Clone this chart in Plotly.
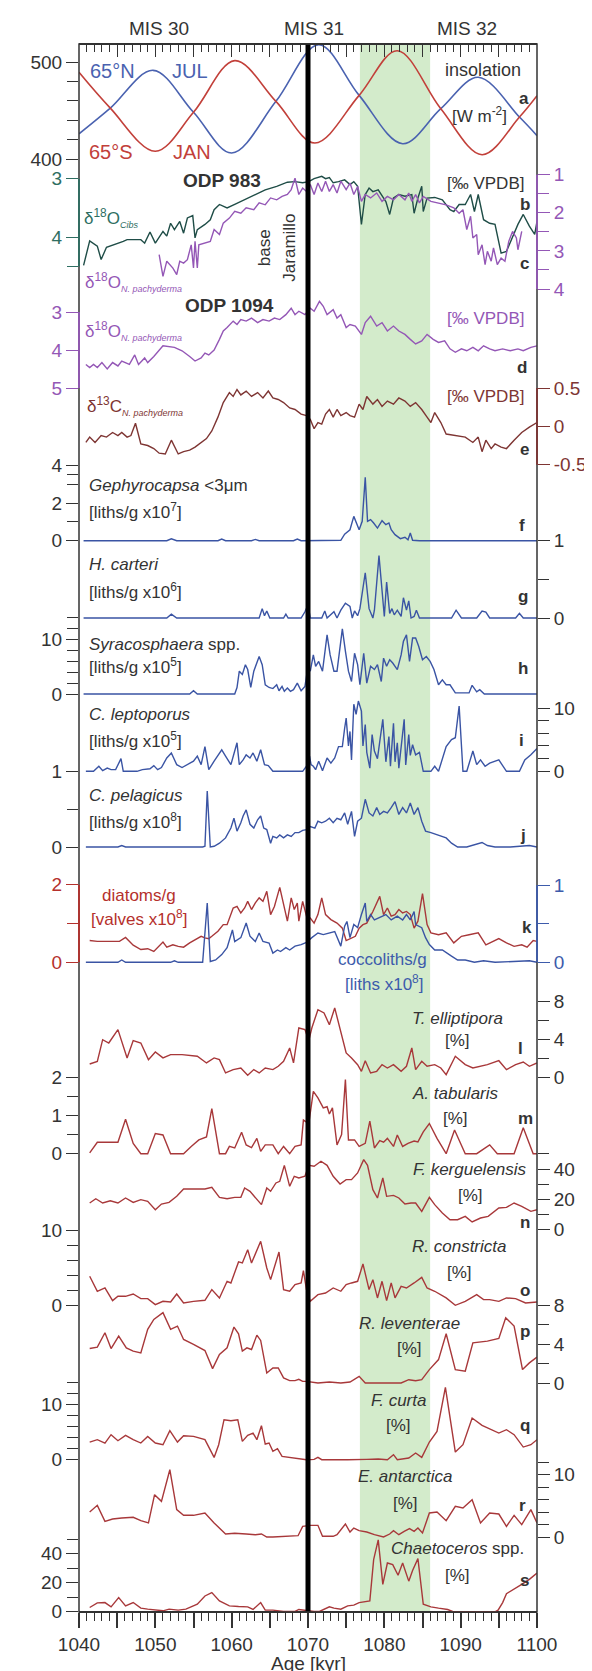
import plotly.graph_objects as go

FONT = "Liberation Sans, Arial, sans-serif"

# ---------------- data (age in kyr, value) ----------------
ins_n_age = [1040, 1044.1, 1049.7, 1055.0, 1060.0, 1065.8, 1071.4, 1076.7, 1082.4, 1087.4, 1092.3, 1097.7, 1100]
ins_n_val = [426, 452.6, 491.7, 448.3, 406.2, 459.6, 518.2, 465.8, 415.8, 452, 484.5, 443.4, 424.2]
ins_s_age = [1040, 1044.1, 1050.0, 1055.0, 1060.4, 1065.8, 1070.9, 1076.7, 1081.7, 1087.4, 1092.8, 1097.7, 1100]
ins_s_val = [489.6, 452.6, 408, 448.3, 501.7, 459.6, 416.5, 465.8, 512, 452, 404.4, 443.4, 465.5]

d18o_cibs_983 = [(1040.6,4.48),(1041.4,4.06),(1042.4,4.15),(1042.9,4.38),(1043.6,4.17),(1045.1,4.11),(1045.8,4.07),(1046.3,4.04),(1047.1,4.04),(1048.1,4.04),(1048.6,4.10),(1049.3,3.91),(1050.0,4.10),(1051.0,3.90),(1051.5,3.98),(1052.0,3.76),(1052.5,3.87),(1053.2,3.73),(1053.7,3.93),(1054.2,3.67),(1054.9,3.63),(1055.2,4.01),(1055.5,3.87),(1056.5,3.78),(1057.2,3.70),(1057.7,3.53),(1058.4,3.44),(1059.4,3.50),(1060.4,3.44),(1062.4,3.32),(1064.4,3.19),(1065.9,3.13),(1067.3,3.06),(1068.3,3.05),(1069.3,3.07),(1070.1,3.05),(1070.8,3.00),(1071.8,2.96),(1072.3,3.00),(1072.8,2.98),(1073.3,3.07),(1074.0,3.05),(1074.8,3.02),(1075.5,3.10),(1076.0,3.05),(1076.5,3.13),(1077.0,3.78),(1077.5,3.27),(1078.0,3.16),(1078.5,3.22),(1079.2,3.19),(1080.2,3.39),(1080.7,3.61),(1081.2,3.33),(1081.9,3.27),(1082.7,3.30),(1083.6,3.27),(1083.9,3.59),(1084.4,3.33),(1084.9,3.13),(1085.1,3.56),(1085.6,3.33),(1086.6,3.32),(1087.6,3.36),(1088.6,3.53),(1089.1,3.56),(1089.8,3.44),(1090.6,3.44),(1091.3,3.27),(1091.8,3.56),(1092.3,3.27),(1093.0,3.70),(1093.8,3.76),(1094.5,3.78),(1095.3,4.27),(1096.0,4.24),(1096.7,4.01),(1097.5,3.78),(1098.2,3.61),(1099.0,3.81),(1099.7,3.95),(1100.0,3.73)]

d18o_npach_983 = [(1050.5,3.10),(1051.0,3.67),(1051.5,3.27),(1052.3,3.45),(1052.8,3.62),(1053.2,3.27),(1053.7,3.32),(1054.2,3.23),(1054.7,2.84),(1055.0,3.45),(1055.2,2.75),(1055.5,3.45),(1055.7,2.84),(1056.5,2.79),(1057.2,2.75),(1057.7,2.44),(1058.4,2.57),(1058.9,2.27),(1059.7,2.14),(1060.4,1.96),(1061.2,2.01),(1061.9,1.87),(1062.9,1.92),(1063.6,1.74),(1064.4,1.79),(1065.1,1.61),(1065.9,1.66),(1066.6,1.57),(1067.3,1.52),(1067.8,1.39),(1068.3,1.09),(1068.8,1.52),(1069.3,1.35),(1069.8,1.44),(1070.3,1.26),(1070.8,1.52),(1071.3,1.22),(1071.8,1.44),(1072.3,1.17),(1072.8,1.44),(1073.3,1.26),(1073.8,1.48),(1074.3,1.17),(1075.0,1.39),(1075.5,1.22),(1076.0,1.52),(1076.5,1.31),(1077.0,1.70),(1077.5,1.52),(1078.2,1.61),(1079.0,1.48),(1079.7,1.70),(1080.4,1.57),(1081.2,1.66),(1081.9,1.52),(1082.7,1.66),(1083.2,1.48),(1083.6,1.70),(1084.1,1.52),(1084.6,1.74),(1085.1,1.57),(1086.1,1.70),(1087.1,1.74),(1088.1,1.79),(1089.1,1.87),(1089.8,2.01),(1090.3,1.92),(1090.8,2.44),(1091.3,2.09),(1091.6,2.66),(1092.1,2.57),(1092.3,3.10),(1092.8,2.84),(1093.2,3.36),(1093.5,3.01),(1094.0,3.27),(1094.3,2.92),(1094.8,3.36),(1095.3,3.19),(1095.8,3.27),(1096.3,2.75),(1096.8,2.49),(1097.3,2.66),(1097.5,2.97),(1098.0,2.49)]

d18o_npach_1094 = [(1040.9,4.38),(1041.4,4.46),(1041.9,4.38),(1042.4,4.46),(1043.0,4.33),(1043.7,4.50),(1044.4,4.33),(1045.1,4.42),(1045.6,4.29),(1046.6,4.38),(1047.3,4.13),(1047.8,4.38),(1048.6,4.21),(1049.0,4.33),(1049.8,4.17),(1050.5,4.0),(1051.0,3.89),(1052.5,3.93),(1053.5,4.02),(1054.5,4.17),(1055.2,4.29),(1056.0,4.21),(1056.5,4.08),(1057.0,4.13),(1057.7,4.0),(1058.4,3.72),(1058.9,3.50),(1059.4,3.41),(1060.2,3.24),(1060.7,3.33),(1061.2,3.20),(1061.9,3.24),(1062.6,3.16),(1063.4,3.28),(1064.1,3.20),(1064.9,3.24),(1065.6,3.16),(1066.3,3.20),(1067.1,3.07),(1067.8,2.90),(1068.3,3.07),(1068.8,2.98),(1069.6,3.07),(1070.3,2.90),(1070.8,2.98),(1071.5,2.72),(1072.0,2.85),(1072.5,3.07),(1073.3,2.94),(1073.8,3.16),(1074.3,3.07),(1075.0,3.41),(1075.5,3.33),(1076.2,3.37),(1077.0,3.59),(1077.5,3.28),(1078.2,3.11),(1079.0,3.37),(1079.7,3.28),(1080.4,3.50),(1081.2,3.37),(1081.9,3.50),(1082.7,3.59),(1083.4,3.72),(1084.1,3.84),(1084.9,3.76),(1085.6,3.59),(1086.4,3.72),(1087.1,3.80),(1087.9,3.76),(1088.6,3.97),(1089.3,4.06),(1090.1,3.97),(1090.8,4.02),(1091.6,3.93),(1092.3,4.02),(1093.0,3.89),(1093.8,3.97),(1094.5,4.02),(1095.5,3.97),(1096.5,4.02),(1097.5,3.97),(1098.2,4.02),(1099.2,3.93),(1100.0,3.89)]

d13c_npach_1094 = [(1040.9,-0.21),(1041.4,-0.14),(1042.1,-0.21),(1042.9,-0.12),(1043.6,-0.14),(1044.4,-0.08),(1045.1,-0.12),(1045.6,-0.08),(1046.3,-0.14),(1046.8,-0.12),(1047.4,0.04),(1048.1,-0.23),(1049.0,-0.25),(1049.8,-0.29),(1050.5,-0.35),(1051.3,-0.36),(1052.1,-0.18),(1053.0,-0.36),(1053.7,-0.33),(1054.5,-0.31),(1055.2,-0.27),(1056.0,-0.21),(1056.7,-0.16),(1057.4,-0.06),(1058.2,0.12),(1058.9,0.31),(1059.7,0.44),(1060.2,0.39),(1060.7,0.48),(1061.2,0.41),(1061.9,0.46),(1062.6,0.39),(1063.4,0.44),(1064.1,0.37),(1064.8,0.46),(1065.4,0.37),(1066.1,0.35),(1066.8,0.31),(1067.6,0.24),(1068.3,0.22),(1069.1,0.16),(1069.8,0.14),(1070.3,0.09),(1070.8,-0.03),(1071.3,0.05),(1071.8,0.03),(1072.3,0.16),(1072.8,0.22),(1073.3,0.12),(1073.8,0.22),(1074.3,0.14),(1075.0,0.18),(1075.5,0.14),(1076.1,0.12),(1076.7,0.29),(1077.2,0.22),(1077.7,0.39),(1078.5,0.29),(1079.1,0.35),(1079.7,0.26),(1080.4,0.33),(1081.2,0.29),(1081.9,0.37),(1082.7,0.33),(1083.4,0.26),(1084.1,0.31),(1084.9,0.22),(1085.6,0.12),(1086.1,0.05),(1086.6,0.18),(1087.4,0.05),(1088.1,-0.10),(1089.3,-0.12),(1090.6,-0.14),(1091.6,-0.21),(1092.3,-0.14),(1092.8,-0.33),(1093.3,-0.18),(1094.0,-0.29),(1094.5,-0.23),(1095.3,-0.27),(1096.0,-0.29),(1097.0,-0.18),(1098.0,-0.08),(1099.0,-0.01),(1100.0,0.05)]

gephyrocapsa = [(1040.6,0),(1051.5,0),(1052.1,0.1),(1052.8,0),(1058.2,0),(1058.7,0.09),(1059.2,0),(1062.6,0),(1063.1,0.07),(1063.6,0),(1068.1,0),(1068.6,0.09),(1069.1,0),(1074.3,0.02),(1074.8,0.35),(1075.2,0.5),(1075.5,0.58),(1076.0,1.29),(1076.3,0.94),(1076.7,0.58),(1077.1,1.03),(1077.5,3.36),(1077.8,1.03),(1078.2,1.12),(1078.6,0.94),(1079.1,0.67),(1079.7,1.06),(1080.2,0.85),(1080.6,0.94),(1080.9,0.58),(1081.4,0.32),(1082.1,0.11),(1082.7,0.18),(1083.1,0.05),(1083.4,0.41),(1083.7,0.02),(1084.6,0),(1100,0)]

h_carteri = [(1040.6,0),(1051.5,0),(1052.1,0.05),(1052.8,0),(1063.6,0),(1064.0,0.12),(1064.3,0.03),(1064.6,0.09),(1065.0,0),(1066.8,0),(1067.1,0.05),(1067.4,0),(1069.1,0),(1069.6,0.08),(1070.0,0.17),(1070.3,0),(1071.8,0),(1072.2,0.09),(1072.5,0),(1073.0,0.05),(1073.4,0.08),(1073.8,0),(1074.3,0.10),(1074.9,0.19),(1075.5,0.15),(1075.8,0),(1076.1,0.09),(1076.5,0.03),(1076.8,0.12),(1077.5,0.58),(1078.0,0.12),(1078.5,0),(1078.7,0.10),(1079.3,0.80),(1079.7,0.33),(1080.0,0.02),(1080.3,0.46),(1080.7,0.06),(1081.0,0.12),(1081.3,0.04),(1081.7,0.10),(1082.2,0.02),(1082.5,0.26),(1082.9,0.10),(1083.2,0.22),(1083.5,0),(1083.9,0.02),(1084.2,0.10),(1084.6,0),(1088.8,0),(1089.4,0.10),(1090.1,0),(1092.1,0),(1092.8,0.09),(1093.3,0.075),(1093.8,0),(1097.2,0),(1097.7,0.06),(1098.2,0),(1100,0)]

syracosphaera = [(1040.6,0),(1054.5,0),(1055.0,0.6),(1055.5,0),(1060.4,0),(1060.7,1.2),(1061.0,4.2),(1061.4,3.6),(1061.8,5.4),(1062.1,4.5),(1062.5,1.2),(1062.9,4.2),(1063.6,6.9),(1064.0,5.4),(1064.4,1.7),(1064.9,1.2),(1065.4,1.0),(1065.9,1.7),(1066.2,0.6),(1066.6,1.4),(1066.9,0.5),(1067.3,1.1),(1067.7,0.5),(1068.1,0.8),(1068.6,2.0),(1069.1,0.6),(1069.6,1.4),(1070.0,5.1),(1070.3,4.2),(1070.7,7.2),(1071.0,5.1),(1071.4,6.0),(1071.9,4.2),(1072.5,10.9),(1072.9,7.2),(1073.4,4.2),(1073.8,4.2),(1074.5,12.0),(1074.9,7.9),(1075.3,4.2),(1075.7,2.3),(1076.1,7.5),(1076.5,5.4),(1076.8,1.7),(1077.3,7.5),(1077.7,2.0),(1078.2,5.1),(1078.7,4.5),(1079.1,5.4),(1079.6,2.3),(1079.9,6.6),(1080.3,5.1),(1080.7,6.3),(1081.1,5.7),(1081.7,4.5),(1082.2,7.2),(1082.5,9.7),(1082.9,10.9),(1083.3,6.0),(1083.7,10.3),(1084.1,10.3),(1084.5,8.8),(1085.0,6.3),(1085.5,6.9),(1086.0,6.0),(1086.5,4.5),(1087.1,1.7),(1087.6,2.6),(1088.1,1.7),(1088.6,1.7),(1089.3,0.2),(1091.1,0.2),(1091.5,1.6),(1092.1,0.4),(1092.5,0.8),(1093.1,0),(1100,0)]

c_leptoporus = [(1040.9,0),(1041.9,0),(1042.6,0.8),(1043.1,0.1),(1043.7,0.5),(1044.2,0.26),(1044.8,0.26),(1045.5,2.0),(1045.8,0),(1047.6,0),(1048.3,0.26),(1049.3,0.4),(1049.8,0.9),(1050.3,0.26),(1050.8,0.6),(1051.5,2.1),(1052.1,2.9),(1052.8,1.05),(1053.5,0.6),(1054.2,1.05),(1055.0,1.6),(1055.5,2.4),(1056.0,1.05),(1056.5,3.9),(1057.0,0.26),(1057.7,1.6),(1058.2,2.6),(1058.7,3.4),(1059.2,2.4),(1059.9,1.05),(1060.7,4.5),(1061.0,1.05),(1061.5,1.8),(1061.9,2.6),(1062.4,2.1),(1062.8,2.9),(1063.3,1.6),(1063.8,3.4),(1064.3,1.05),(1064.8,0.9),(1065.4,0),(1069.3,0),(1069.8,0.8),(1070.2,2.4),(1070.4,1.05),(1070.7,0.8),(1071.0,0.26),(1071.4,1.6),(1071.9,0.1),(1072.5,2.1),(1073.0,1.3),(1073.5,2.1),(1074.0,3.9),(1074.5,3.9),(1074.8,6.8),(1075.0,8.4),(1075.3,4.0),(1075.5,6.3),(1075.7,1.8),(1076.0,10.6),(1076.3,9.0),(1076.6,11.1),(1077.0,9.5),(1077.2,4.0),(1077.5,7.4),(1077.7,3.0),(1078.1,0.5),(1078.4,5.8),(1078.7,3.2),(1079.1,2.0),(1079.4,4.7),(1079.8,8.2),(1080.2,1.5),(1080.6,5.5),(1080.8,0.8),(1081.2,7.6),(1081.4,1.5),(1081.7,4.5),(1081.9,0.5),(1082.3,5.0),(1082.6,8.2),(1082.8,1.0),(1083.2,5.8),(1083.4,2.5),(1083.7,4.2),(1084.1,2.6),(1084.6,3.0),(1085.1,0),(1086.1,0),(1086.6,0.8),(1087.1,0),(1088.1,3.9),(1088.8,5.0),(1089.3,5.3),(1089.8,10.3),(1090.3,0),(1090.8,0),(1091.6,3.2),(1092.1,1.05),(1092.6,1.8),(1093.2,0.8),(1093.8,1.3),(1095.0,1.8),(1096.0,0),(1097.7,0),(1098.4,1.8),(1099.2,2.6),(1100,3.6)]

c_pelagicus = [(1040.9,0),(1045.1,0),(1045.6,0.02),(1046.1,0),(1056.2,0),(1056.5,0.01),(1056.8,0.74),(1057.2,0),(1057.7,0.01),(1058.4,0.05),(1059.2,0.12),(1059.9,0.25),(1060.3,0.38),(1060.7,0.21),(1061.2,0.32),(1061.5,0.41),(1061.9,0.49),(1062.4,0.30),(1062.9,0.25),(1063.4,0.36),(1063.8,0.41),(1064.2,0.25),(1064.6,0.23),(1065.1,0.05),(1065.4,0.14),(1065.9,0.12),(1066.3,0.16),(1066.8,0.12),(1067.3,0.16),(1067.8,0.14),(1068.3,0.19),(1068.8,0.19),(1069.3,0.22),(1069.8,0.23),(1070.3,0.27),(1070.9,0.25),(1071.3,0.34),(1071.8,0.32),(1072.3,0.34),(1072.8,0.38),(1073.3,0.32),(1073.8,0.38),(1074.3,0.36),(1074.8,0.45),(1075.2,0.30),(1075.7,0.47),(1076.1,0.14),(1076.5,0.34),(1077.0,0.38),(1077.5,0.63),(1078.0,0.45),(1078.5,0.41),(1079.0,0.52),(1079.4,0.43),(1079.9,0.47),(1080.4,0.45),(1080.9,0.52),(1081.4,0.60),(1081.9,0.43),(1082.4,0.52),(1082.9,0.45),(1083.4,0.58),(1083.9,0.43),(1084.4,0.52),(1084.9,0.34),(1085.4,0.21),(1086.1,0.19),(1087.1,0.16),(1088.1,0.12),(1088.8,0.05),(1089.6,0),(1090.8,0),(1091.8,0.03),(1092.8,0.06),(1093.5,0.02),(1094.5,0),(1096.5,0),(1099.0,0.02),(1100,0)]

diatoms_g = [(1041.4,0.56),(1042.4,0.54),(1043.4,0.54),(1044.4,0.54),(1045.3,0.54),(1046.1,0.64),(1047.1,0.44),(1048.1,0.33),(1049.0,0.35),(1049.8,0.28),(1050.5,0.41),(1051.0,0.52),(1051.5,0.39),(1052.3,0.45),(1053.0,0.41),(1053.7,0.39),(1054.5,0.50),(1055.2,0.58),(1056.0,0.67),(1056.5,0.63),(1057.0,0.61),(1057.4,0.67),(1058.2,0.80),(1058.9,0.97),(1059.4,0.97),(1060.2,1.40),(1060.7,1.44),(1061.2,1.27),(1061.7,1.40),(1062.1,1.57),(1062.6,1.36),(1063.1,1.53),(1063.6,1.66),(1064.1,1.57),(1064.6,1.83),(1065.1,1.23),(1065.6,1.44),(1066.3,1.93),(1066.8,1.49),(1067.3,1.06),(1067.8,1.66),(1068.2,1.36),(1068.6,1.53),(1068.8,1.06),(1069.3,1.57),(1069.8,1.19),(1070.3,1.14),(1070.8,1.01),(1071.3,1.23),(1071.8,1.66),(1072.3,1.23),(1073.0,1.10),(1073.8,1.01),(1074.5,0.88),(1075.0,0.56),(1075.7,0.63),(1076.2,0.67),(1076.7,0.88),(1077.2,0.97),(1077.7,1.01),(1078.5,1.31),(1079.4,1.70),(1079.9,1.23),(1080.4,1.40),(1080.9,1.19),(1081.4,1.23),(1081.9,1.36),(1082.4,1.27),(1082.9,1.31),(1083.4,1.23),(1083.9,0.88),(1084.4,1.06),(1085.0,1.77),(1085.6,0.97),(1086.1,0.76),(1087.1,0.71),(1088.1,0.76),(1089.1,0.50),(1090.1,0.67),(1091.1,0.71),(1092.3,0.76),(1093.3,0.45),(1094.3,0.54),(1095.0,0.61),(1096.0,0.50),(1097.0,0.41),(1098.0,0.45),(1098.7,0.39),(1099.5,0.56),(1100,0.54)]

coccoliths_g = [(1040.9,0),(1045.1,0),(1045.6,0.03),(1046.1,0),(1052.0,0),(1052.5,0.02),(1053.0,0),(1056.2,0),(1056.8,0.77),(1057.2,0.01),(1057.9,0.03),(1058.7,0.10),(1059.4,0.19),(1060.1,0.42),(1060.4,0.27),(1061.2,0.32),(1061.9,0.51),(1062.4,0.34),(1063.1,0.27),(1063.6,0.38),(1064.1,0.27),(1064.9,0.25),(1065.4,0.12),(1066.0,0.16),(1066.4,0.14),(1067.1,0.19),(1067.6,0.16),(1068.3,0.21),(1069.1,0.23),(1069.8,0.26),(1070.5,0.32),(1071.3,0.38),(1072.0,0.36),(1072.8,0.38),(1073.5,0.40),(1074.3,0.21),(1074.8,0.47),(1075.1,0.53),(1075.5,0.32),(1076.0,0.49),(1076.5,0.45),(1077.0,0.62),(1077.5,0.77),(1077.7,0.53),(1078.2,0.62),(1078.7,0.55),(1079.4,0.58),(1080.2,0.62),(1080.9,0.55),(1081.7,0.60),(1082.4,0.55),(1082.9,0.62),(1083.4,0.55),(1083.9,0.66),(1084.1,0.49),(1084.9,0.45),(1085.4,0.32),(1085.9,0.23),(1086.6,0.16),(1087.6,0.16),(1088.8,0.08),(1089.6,0.03),(1090.6,0.03),(1091.8,0),(1093.0,0.02),(1094.5,0),(1099.0,0.02),(1100,0)]

t_elliptipora = [(1041.4,1.4),(1042.4,1.68),(1043.1,3.96),(1043.9,3.61),(1045.1,5.02),(1045.6,3.79),(1046.3,2.04),(1047.1,3.86),(1048.1,3.61),(1049.1,1.86),(1050.0,2.67),(1051.0,2.04),(1052.0,2.39),(1053.5,2.39),(1055.5,2.21),(1056.7,1.51),(1057.7,2.04),(1058.4,1.86),(1059.2,0.46),(1060.2,0.81),(1061.2,0.98),(1062.1,0.21),(1062.9,0.81),(1063.6,0.46),(1064.4,0.98),(1065.4,0.81),(1066.1,1.16),(1066.8,1.68),(1067.6,3.09),(1068.1,1.51),(1068.8,5.19),(1069.6,5.02),(1070.1,3.86),(1070.5,5.19),(1071.3,7.12),(1072.1,6.77),(1072.8,5.54),(1073.5,7.30),(1074.3,4.67),(1075.0,2.56),(1075.7,2.04),(1076.5,1.33),(1077.0,0.63),(1077.5,1.75),(1078.2,0.46),(1079.0,0.63),(1079.7,1.33),(1080.4,0.98),(1081.2,1.33),(1082.2,0.63),(1082.9,1.16),(1083.6,3.09),(1084.1,0.81),(1084.9,1.68),(1085.6,1.16),(1086.6,1.33),(1087.4,0.98),(1088.1,0.28),(1089.3,2.21),(1090.6,1.33),(1091.6,0.98),(1092.5,1.16),(1093.5,1.33),(1095.0,1.75),(1096.0,0.81),(1097.2,1.33),(1098.2,1.61),(1099.0,1.16),(1100,1.51)]

a_tabularis = [(1041.4,0.02),(1042.4,0.3),(1043.4,0.3),(1045.1,0.3),(1046.1,0.9),(1047.1,0.27),(1048.1,0),(1049.0,0),(1050.0,0.53),(1051.0,0.49),(1052.0,0),(1053.7,0),(1054.7,0.19),(1055.7,0.36),(1056.7,0.44),(1057.4,1.18),(1058.4,0),(1059.2,0),(1059.7,0.19),(1060.4,0.15),(1061.3,0.56),(1061.9,0.23),(1062.6,0.16),(1063.3,0.4),(1063.8,0.06),(1064.4,0.23),(1065.4,0.23),(1066.1,0),(1066.8,0.19),(1067.6,0),(1068.3,0.19),(1069.1,0.23),(1069.4,0.88),(1070.1,0.79),(1070.7,1.63),(1071.3,1.46),(1072.0,1.2),(1072.5,1.23),(1072.8,1.04),(1073.2,1.2),(1073.8,0.23),(1074.4,0.5),(1074.9,1.94),(1075.3,0.36),(1076.1,0.36),(1076.7,0.19),(1077.5,0.27),(1078.1,0.85),(1078.7,0.15),(1079.4,0.34),(1079.9,0.30),(1080.4,0.40),(1081.2,0.19),(1081.7,0.49),(1082.4,0.19),(1083.1,0.27),(1083.9,0.33),(1084.4,0.31),(1085.1,0.57),(1085.9,0.79),(1086.9,0.4),(1088.1,0),(1089.2,0.62),(1090.6,0),(1092.1,0),(1093.8,0.23),(1094.8,0),(1097.0,0),(1098.2,0.68),(1099.5,0),(1100,0)]

f_kerguelensis = [(1041.4,17.6),(1042.2,20.4),(1043.1,17.6),(1044.1,19.1),(1045.1,17.6),(1046.1,20.9),(1047.1,18.0),(1048.1,19.8),(1049.0,18.7),(1050.0,13.2),(1050.8,16.9),(1051.8,18.0),(1052.8,22.0),(1053.7,26.8),(1055.0,26.8),(1056.5,26.8),(1057.4,27.9),(1058.4,21.3),(1059.4,20.4),(1060.4,21.3),(1061.2,21.3),(1061.7,27.5),(1062.4,25.3),(1063.1,21.3),(1063.9,16.5),(1064.6,27.5),(1065.1,25.3),(1065.8,30.8),(1066.3,31.9),(1066.9,42.4),(1067.6,28.6),(1068.2,35.2),(1068.8,34.1),(1069.6,35.2),(1070.1,42.4),(1070.8,41.8),(1071.7,45.1),(1072.5,42.4),(1073.3,35.2),(1074.2,30.1),(1075.0,33.0),(1075.7,33.0),(1076.5,37.4),(1077.3,46.2),(1077.8,42.4),(1078.5,26.4),(1079.1,20.9),(1079.8,34.1),(1080.3,22.0),(1081.2,22.6),(1081.9,20.9),(1082.7,16.9),(1083.5,17.6),(1084.1,17.6),(1084.9,12.1),(1085.9,21.3),(1086.6,16.5),(1087.6,11.0),(1088.6,6.6),(1089.6,6.6),(1090.6,8.8),(1091.5,5.1),(1092.6,7.7),(1093.6,8.8),(1095.0,14.3),(1096.0,14.7),(1097.0,17.6),(1098.0,15.4),(1099.2,12.1),(1100,13.2)]

r_constricta = [(1041.4,3.87),(1042.4,1.87),(1043.4,2.31),(1044.4,0.62),(1045.1,1.2),(1046.1,1.2),(1047.1,1.51),(1048.1,0.89),(1049.0,0.89),(1050.0,0.09),(1051.0,0.53),(1052.0,0.44),(1052.8,1.51),(1053.7,0.31),(1055.0,0.53),(1056.5,0.67),(1057.4,2.09),(1058.4,0.98),(1059.4,3.2),(1059.9,2.98),(1060.9,5.78),(1061.4,5.64),(1062.1,7.42),(1062.6,5.64),(1063.8,8.53),(1064.6,4.98),(1065.1,3.42),(1066.2,7.11),(1066.8,2.09),(1067.6,1.87),(1068.3,2.76),(1069.1,2.98),(1069.4,4.62),(1069.8,2.09),(1070.3,0.53),(1071.3,1.42),(1072.3,1.64),(1073.3,2.31),(1074.3,1.87),(1075.0,2.76),(1075.7,2.98),(1076.5,3.2),(1077.2,5.51),(1078.0,2.09),(1078.5,3.42),(1079.1,0.98),(1079.7,3.2),(1080.3,0.62),(1080.9,2.98),(1081.4,0.98),(1082.2,2.53),(1082.9,2.31),(1083.9,2.98),(1084.9,3.73),(1085.6,2.31),(1086.6,1.87),(1088.1,0.98),(1089.3,0),(1090.6,0.53),(1092.1,1.42),(1093.0,0.75),(1093.8,0.75),(1095.0,0.53),(1096.0,0.98),(1097.2,0.89),(1098.5,0.31),(1100,0.44)]

r_leventerae = [(1041.4,3.55),(1042.4,3.69),(1043.4,5.17),(1044.2,3.55),(1045.2,4.83),(1046.2,3.62),(1047.1,3.28),(1048.1,3.10),(1049.0,5.52),(1049.8,6.55),(1051.0,7.24),(1052.0,5.52),(1052.9,5.86),(1053.7,4.48),(1055.0,3.97),(1056.5,3.34),(1057.5,1.48),(1058.4,2.93),(1059.4,3.62),(1060.3,5.76),(1060.9,5.07),(1061.4,3.28),(1062.0,3.62),(1062.6,3.45),(1063.3,4.93),(1063.8,4.38),(1064.6,1.03),(1065.4,1.55),(1066.1,1.55),(1066.8,0.52),(1067.6,0.24),(1068.3,0.24),(1068.8,0.38),(1069.3,0.17),(1069.8,0.17),(1070.5,0.10),(1071.3,0),(1072.8,0.10),(1074.3,0),(1075.5,0.10),(1076.7,0.69),(1077.5,0),(1079.0,0),(1080.7,0),(1082.2,0),(1083.2,0.34),(1084.1,0.24),(1084.9,0.34),(1085.9,1.38),(1087.1,2.41),(1088.1,5.07),(1089.3,1.38),(1090.6,1.21),(1091.6,4.14),(1093.5,4.31),(1095.0,4.59),(1095.9,6.72),(1097.0,5.86),(1098.1,1.38),(1099.0,2.07),(1100,2.66)]

f_curta = [(1041.4,3.21),(1042.4,3.64),(1043.4,3.03),(1044.2,4.55),(1045.1,3.45),(1046.1,4.42),(1047.1,3.64),(1048.1,3.03),(1049.0,4.24),(1050.0,3.03),(1051.0,2.73),(1051.9,5.27),(1052.9,3.21),(1053.7,4.36),(1055.0,4.24),(1056.5,3.64),(1057.7,0.42),(1058.3,2.73),(1059.0,7.27),(1059.9,7.09),(1060.8,7.27),(1061.4,3.33),(1062.1,4.42),(1062.8,4.85),(1063.3,3.64),(1063.9,6.18),(1064.4,2.85),(1064.9,3.03),(1065.4,1.52),(1066.0,2.0),(1066.6,0.61),(1067.6,0.42),(1068.8,0.30),(1069.8,0),(1070.8,0.06),(1071.3,0.42),(1071.8,0),(1073.3,0.06),(1075.2,0),(1077.7,0.06),(1079.2,0.12),(1080.4,0),(1081.2,0.91),(1081.7,0),(1083.2,0.30),(1084.1,1.21),(1084.9,0.42),(1085.9,3.21),(1086.9,5.15),(1088.0,13.15),(1089.3,1.39),(1090.3,2.73),(1091.5,7.58),(1092.8,6.24),(1094.0,5.45),(1095.0,4.85),(1096.0,5.45),(1097.0,4.55),(1098.2,2.30),(1099.2,2.73),(1100,3.64)]

e_antarctica = [(1041.4,4.0),(1042.4,5.08),(1043.4,2.51),(1044.4,2.89),(1045.6,3.05),(1047.1,3.16),(1048.1,2.62),(1049.1,2.25),(1049.9,6.79),(1050.8,5.72),(1051.9,10.8),(1052.8,4.39),(1053.7,3.48),(1055.0,3.48),(1056.5,3.85),(1057.7,2.25),(1059.2,0.48),(1060.4,0.59),(1061.9,0.48),(1063.1,0.37),(1063.9,0.48),(1064.6,0),(1065.4,0),(1066.8,0.11),(1068.7,0.21),(1069.3,1.71),(1070.3,1.87),(1071.3,1.87),(1071.9,0.11),(1073.3,0.11),(1073.8,0.37),(1074.9,2.09),(1075.5,0.80),(1076.0,1.44),(1076.7,1.02),(1077.7,0.80),(1078.7,0.37),(1079.9,0),(1080.7,0.48),(1081.2,1.02),(1081.9,0.37),(1082.6,0.91),(1083.3,1.34),(1083.9,0.91),(1084.4,1.44),(1085.0,0.64),(1085.9,3.85),(1086.9,4.0),(1088.1,2.62),(1089.3,4.92),(1090.3,4.65),(1091.5,5.99),(1092.6,2.25),(1093.8,3.85),(1095.0,3.69),(1096.0,1.71),(1097.0,3.48),(1098.0,1.98),(1099.2,4.39),(1100,2.25)]

chaetoceros = [(1041.4,2.95),(1042.4,6.14),(1043.4,6.36),(1044.2,3.41),(1045.2,9.77),(1046.1,4.09),(1047.1,6.36),(1048.1,2.5),(1049.0,1.82),(1050.0,1.14),(1051.0,0.68),(1051.8,1.82),(1053.0,1.14),(1054.0,1.82),(1055.5,5.23),(1056.5,10.9),(1057.4,13.2),(1058.4,7.5),(1059.7,4.09),(1060.9,3.64),(1062.1,3.41),(1062.8,1.59),(1063.8,6.36),(1064.4,1.14),(1065.4,1.14),(1066.8,0.23),(1068.3,0.23),(1068.8,1.59),(1069.8,0.68),(1070.8,0.23),(1071.5,0.23),(1072.8,3.41),(1073.4,2.5),(1074.3,1.82),(1075.2,4.09),(1076.0,4.55),(1076.7,6.36),(1077.5,7.05),(1078.1,7.5),(1078.6,35.9),(1079.2,49.5),(1079.8,18.9),(1080.4,33.6),(1081.1,32.5),(1081.8,25.2),(1082.4,33.6),(1083.2,21.1),(1083.7,28.4),(1084.4,36.6),(1085.1,5.23),(1086.1,3.41),(1087.1,2.5),(1088.3,1.59),(1089.1,0),(1094.5,0),(1094.9,1.14),(1095.5,6.36),(1096.0,12.5),(1097.0,15.5),(1098.0,18.9),(1099.0,22.3),(1100,26.6)]

x_ticks = [1040, 1050, 1060, 1070, 1080, 1090, 1100]
mis_labels = [("MIS 30", 1050.5), ("MIS 31", 1070.8), ("MIS 32", 1090.8)]
jaramillo_base = 1070
green_band = (1076.8, 1086.0)

# ---------------- colours ----------------
BLUE_INS = "#4a62b0"
RED_INS = "#c2403a"
BLUE = "#3a54a4"
RED = "#a8383a"
TEAL = "#1f4d47"
TEAL_T = "#2e6e62"
PURPLE = "#9457b6"
BROWN = "#7e3533"
DARK = "#333333"
KRED = "#b5302c"
KBLUE = "#3d5bab"

# ---------------- geometry ----------------
W, H = 592, 1671
ML, MR, MT, MB = 71, 63, 36, 67
PH = H - MT - MB
YB = MT + PH


def py(ypx):
    return (YB - ypx) / PH


def rng(a, b, s):
    out, v = [], a
    while v <= b + 1e-9:
        out.append(round(v, 3))
        v += s
    return out


def fmt(t):
    return str(int(t)) if float(t).is_integer() else str(t)


def axis_cfg(v1, y1, v2, y2, top, bot, side, tickvals, labelled, color):
    k = (v2 - v1) / (y2 - y1)
    val = lambda y: v1 + (y - y1) * k
    minor_vals = [t for t in tickvals if t not in labelled]
    cfg = dict(domain=[max(0.0, py(bot)), min(1.0, py(top))],
               range=[val(bot), val(top)], anchor="x", side=side,
               tickmode="array", tickvals=labelled, ticktext=[fmt(t) for t in labelled],
               ticks="outside", ticklen=12, tickwidth=1.4, tickcolor=color,
               tickfont=dict(size=19, color=color, family=FONT),
               showgrid=False, zeroline=False, showline=False, fixedrange=True)
    if minor_vals:
        cfg["minor"] = dict(tickmode="array", tickvals=minor_vals, ticks="outside",
                            ticklen=11, tickwidth=1.3, tickcolor=color, showgrid=False)
    return cfg


panels = [
    ("a", 500, 54.3, 400, 151, 36, 160, "left", rng(400, 500, 20), [400, 500], DARK),
    ("b", 3, 170.7, 4, 229.3, 150, 270, "left", [3, 4, 4.5], [3, 4], TEAL_T),
    ("c", 1, 166.7, 4, 281, 150, 295, "right", rng(1, 4, 0.5), [1, 2, 3, 4], PURPLE),
    ("d", 3, 304, 5, 380, 290, 384, "left", [3, 4, 5], [3, 4, 5], PURPLE),
    ("e", 0.5, 380, -0.5, 456.7, 370, 462, "right", [-0.5, 0, 0.5], [-0.5, 0, 0.5], BROWN),
    ("f", 0, 532.7, 4, 457.3, 440, 540, "left", [0, 1, 2, 3, 3.5, 4], [0, 2, 4], DARK),
    ("g", 0, 610, 1, 532, 520, 615, "right", [0, 0.5, 1], [0, 1], DARK),
    ("h", 0, 686, 10, 631.7, 600, 690, "left", rng(0, 14, 2), [0, 10], DARK),
    ("i", 0, 763.3, 10, 700, 680, 768, "right", rng(0, 10, 2), [0, 10], DARK),
    ("j", 0, 839, 1, 763.3, 750, 845, "left", [0, 0.5, 1], [0, 1], DARK),
    ("kL", 0, 954.3, 2, 876.7, 860, 960, "left", [0, 1, 2], [0, 2], KRED),
    ("kR", 0, 954.3, 1, 877.3, 860, 960, "right", [0, 0.5, 1], [0, 1], KBLUE),
    ("l", 0, 1069.3, 8, 993.3, 975, 1075, "right", rng(0, 8, 2), [0, 4, 8], DARK),
    ("m", 0, 1145.7, 2, 1069.3, 1060, 1150, "left", rng(0, 2, 0.5), [0, 1, 2], DARK),
    ("n", 0, 1221.7, 40, 1161, 1140, 1228, "right", rng(0, 50, 10), [0, 20, 40], DARK),
    ("o", 0, 1297.3, 10, 1222.3, 1215, 1302, "left", rng(0, 10, 2), [0, 10], DARK),
    ("p", 0, 1375, 8, 1297.3, 1285, 1380, "right", rng(0, 8, 2), [0, 4, 8], DARK),
    ("q", 0, 1451.7, 10, 1396.7, 1365, 1456, "left", rng(0, 14, 2), [0, 10], DARK),
    ("r", 0, 1529, 10, 1466.7, 1448, 1533, "right", rng(0, 12, 2), [0, 10], DARK),
    ("s", 0, 1603.8, 40, 1545.7, 1520, 1604, "left", rng(0, 50, 10), [0, 20, 40], DARK),
]

layout = dict(width=W, height=H, margin=dict(l=ML, r=MR, t=MT, b=MB),
              paper_bgcolor="white", plot_bgcolor="rgba(0,0,0,0)",
              showlegend=False, hovermode=False,
              font=dict(family=FONT, size=17, color=DARK))

axid = {}
for idx, p in enumerate(panels):
    key = p[0]
    name = "yaxis" if idx == 0 else f"yaxis{idx + 1}"
    axid[key] = "y" if idx == 0 else f"y{idx + 1}"
    layout[name] = axis_cfg(*p[1:])

common_x = dict(range=[1040, 1100], showgrid=False, zeroline=False, fixedrange=True)
layout["xaxis"] = dict(domain=[0, 1], anchor="free", position=0,
                       tickmode="array", tickvals=x_ticks, ticktext=[str(v) for v in x_ticks],
                       ticks="outside", ticklen=15, tickwidth=1.5, tickcolor=DARK,
                       minor=dict(dtick=1, tick0=1040, ticks="outside", ticklen=8,
                                  tickwidth=1.3, tickcolor=DARK, showgrid=False),
                       tickfont=dict(size=19, color=DARK, family=FONT),
                       showline=True, linecolor=DARK, linewidth=1.5, **common_x)
layout["xaxis2"] = dict(overlaying="x", side="top", anchor="free", position=1,
                        tickmode="array", tickvals=rng(1040, 1100, 5), showticklabels=False,
                        ticks="inside", ticklen=12, tickwidth=1.4, tickcolor=DARK,
                        minor=dict(dtick=1, tick0=1040, ticks="inside", ticklen=7,
                                   tickwidth=1.2, tickcolor=DARK, showgrid=False),
                        showline=True, linecolor=DARK, linewidth=1.5, **common_x)
layout["xaxis3"] = dict(overlaying="x", side="bottom", anchor="free", position=0,
                        tickmode="array", tickvals=rng(1045, 1095, 10), showticklabels=False,
                        ticks="outside", ticklen=15, tickwidth=1.5, tickcolor=DARK,
                        showline=False, **common_x)

fig = go.Figure()


def add_line(xs, ys, key, color, width=1.4, shape="linear"):
    fig.add_trace(go.Scatter(x=xs, y=ys, mode="lines", xaxis="x", yaxis=axid[key],
                             line=dict(color=color, width=width, shape=shape),
                             hoverinfo="skip"))


def add_pairs(pairs, key, color, width=1.4):
    add_line([a for a, _ in pairs], [v for _, v in pairs], key, color, width)


add_line(ins_n_age, ins_n_val, "a", BLUE_INS, 1.6, "spline")
add_line(ins_s_age, ins_s_val, "a", RED_INS, 1.6, "spline")
add_pairs(d18o_npach_983, "c", PURPLE)
add_pairs(d18o_cibs_983, "b", TEAL)
add_pairs(d18o_npach_1094, "d", PURPLE)
add_pairs(d13c_npach_1094, "e", BROWN)
add_pairs(gephyrocapsa, "f", BLUE)
add_pairs(h_carteri, "g", BLUE)
add_pairs(syracosphaera, "h", BLUE)
add_pairs(c_leptoporus, "i", BLUE)
add_pairs(c_pelagicus, "j", BLUE)
add_pairs(diatoms_g, "kL", RED)
add_pairs(coccoliths_g, "kR", BLUE)
add_pairs(t_elliptipora, "l", RED)
add_pairs(a_tabularis, "m", RED)
add_pairs(f_kerguelensis, "n", RED)
add_pairs(r_constricta, "o", RED)
add_pairs(r_leventerae, "p", RED)
add_pairs(f_curta, "q", RED)
add_pairs(e_antarctica, "r", RED)
add_pairs(chaetoceros, "s", RED)
fig.add_trace(go.Scatter(x=[], y=[], xaxis="x2", yaxis="y", mode="lines", hoverinfo="skip"))
fig.add_trace(go.Scatter(x=[], y=[], xaxis="x3", yaxis="y", mode="lines", hoverinfo="skip"))

shapes = []
gx0 = (green_band[0] - 1040) / 60
gx1 = (green_band[1] - 1040) / 60
shapes.append(dict(type="rect", xref="paper", yref="paper", x0=gx0, x1=gx1, y0=0, y1=1,
                   fillcolor="#d3ebcb", line=dict(width=0), layer="below"))
jx = (jaramillo_base - 1040) / 60
shapes.append(dict(type="line", xref="paper", yref="paper", x0=jx, x1=jx, y0=0, y1=1,
                   line=dict(color="black", width=5), layer="above"))
shapes.append(dict(type="rect", xref="paper", yref="paper", x0=0, x1=1, y0=0, y1=1,
                   line=dict(color=DARK, width=1.5), layer="above"))
for key, xp, a, b, col in [("b", 0, 3, 4.5, TEAL_T), ("c", 1, 1, 4, PURPLE), ("d", 0, 3, 5, PURPLE),
                           ("e", 1, -0.5, 0.5, BROWN), ("kL", 0, 0, 2, KRED), ("kR", 1, 0, 1, KBLUE)]:
    shapes.append(dict(type="line", xref="paper", yref=axid[key], x0=xp, x1=xp, y0=a, y1=b,
                       line=dict(color=col, width=1.8), layer="above"))
layout["shapes"] = shapes

ann = []


def A(text, x, ypx, size=17, color=DARK, xanchor="center", angle=0, xref="x"):
    ann.append(dict(text=text, x=x, y=py(ypx), xref=xref, yref="paper", showarrow=False,
                    xanchor=xanchor, yanchor="middle", textangle=angle,
                    font=dict(size=size, color=color, family=FONT)))


for t, xk in mis_labels:
    A(t, xk, 20, 19)

A("65°N", 1044.4, 63, 20, BLUE_INS)
A("JUL", 1054.5, 63, 20, BLUE_INS)
A("65°S", 1044.2, 144, 20, RED_INS)
A("JAN", 1054.8, 144, 20, RED_INS)
A("insolation", 1092.9, 62, 18)
A("[W m<sup>-2</sup>]", 1092.5, 107, 17)
A("<b>a</b>", 1098.3, 90, 17)

SUB = '<sub><span style="font-size:9px"><i>%s</i></span></sub>'
A("<b>ODP 983</b>", 1058.7, 172, 19)
A("[‰ VPDB]", 1093.3, 175, 17)
A("<b>b</b>", 1098.4, 197, 17)
A("<b>c</b>", 1098.4, 255, 17)
A("δ<sup>18</sup>O" + SUB % "Cibs", 1044.2, 210, 17, TEAL_T)
A("δ<sup>18</sup>O" + SUB % "N. pachyderma", 1047.2, 274, 17, PURPLE)
A("base", 1064.4, 240, 17, DARK, angle=-90)
A("Jaramillo", 1067.6, 240, 17, DARK, angle=-90)
A("<b>ODP 1094</b>", 1059.7, 297, 19)
A("[‰ VPDB]", 1093.3, 310, 17, PURPLE)
A("δ<sup>18</sup>O" + SUB % "N. pachyderma", 1047.2, 323, 17, PURPLE)
A("<b>d</b>", 1098.0, 360, 17)
A("δ<sup>13</sup>C" + SUB % "N. pachyderma", 1047.4, 398, 17, BROWN)
A("[‰ VPDB]", 1093.3, 388, 17, BROWN)
A("<b>e</b>", 1098.4, 442, 17)

XL = 1041.0
A("<i>Gephyrocapsa</i> &lt;3μm", XL, 478, 17, DARK, "left")
A("[liths/g x10<sup>7</sup>]", XL, 503, 17, DARK, "left")
A("<b>f</b>", 1098.0, 517, 17)
A("<i>H. carteri</i>", XL, 557, 17, DARK, "left")
A("[liths/g x10<sup>6</sup>]", XL, 583, 17, DARK, "left")
A("<b>g</b>", 1098.2, 588, 17)
A("<i>Syracosphaera</i> spp.", XL, 636, 17, DARK, "left")
A("[liths/g x10<sup>5</sup>]", XL, 658, 17, DARK, "left")
A("<b>h</b>", 1098.2, 660, 17)
A("<i>C. leptoporus</i>", XL, 707, 17, DARK, "left")
A("[liths/g x10<sup>5</sup>]", XL, 732, 17, DARK, "left")
A("<b>i</b>", 1098.0, 732, 17)
A("<i>C. pelagicus</i>", XL, 787, 17, DARK, "left")
A("[liths/g x10<sup>8</sup>]", XL, 813, 17, DARK, "left")
A("<b>j</b>", 1098.2, 827, 17)
A("diatoms/g", 1047.8, 887, 17, KRED)
A("[valves x10<sup>8</sup>]", 1047.8, 910, 17, KRED)
A("<b>k</b>", 1098.7, 920, 17)
A("coccoliths/g", 1079.7, 952, 17, KBLUE)
A("[liths x10<sup>8</sup>]", 1080.0, 975, 17, KBLUE)
A("<i>T. elliptipora</i>", 1089.6, 1010, 17)
A("[%]", 1089.6, 1032, 17)
A("<b>l</b>", 1097.9, 1040, 17)
A("<i>A. tabularis</i>", 1089.3, 1085, 17)
A("[%]", 1089.3, 1110, 17)
A("<b>m</b>", 1098.5, 1110, 17)
A("<i>F. kerguelensis</i>", 1091.2, 1162, 17)
A("[%]", 1091.3, 1187, 17)
A("<b>n</b>", 1098.4, 1214, 17)
A("<i>R. constricta</i>", 1089.8, 1238, 17)
A("[%]", 1089.8, 1264, 17)
A("<b>o</b>", 1098.4, 1282, 17)
A("<i>R. leventerae</i>", 1083.3, 1315, 17)
A("[%]", 1083.3, 1340, 17)
A("<b>p</b>", 1098.4, 1323, 17)
A("<i>F. curta</i>", 1081.9, 1392, 17)
A("[%]", 1081.9, 1417, 17)
A("<b>q</b>", 1098.4, 1417, 17)
A("<i>E. antarctica</i>", 1082.8, 1468, 17)
A("[%]", 1082.8, 1495, 17)
A("<b>r</b>", 1098.1, 1497, 17)
A("<i>Chaetoceros</i> spp.", 1089.6, 1540, 17)
A("[%]", 1089.6, 1567, 17)
A("<b>s</b>", 1098.4, 1572, 17)
A("Age [kyr]", 1070.1, 1655, 19)

layout["annotations"] = ann
fig.update_layout(**layout)
fig.write_html("out.html")
